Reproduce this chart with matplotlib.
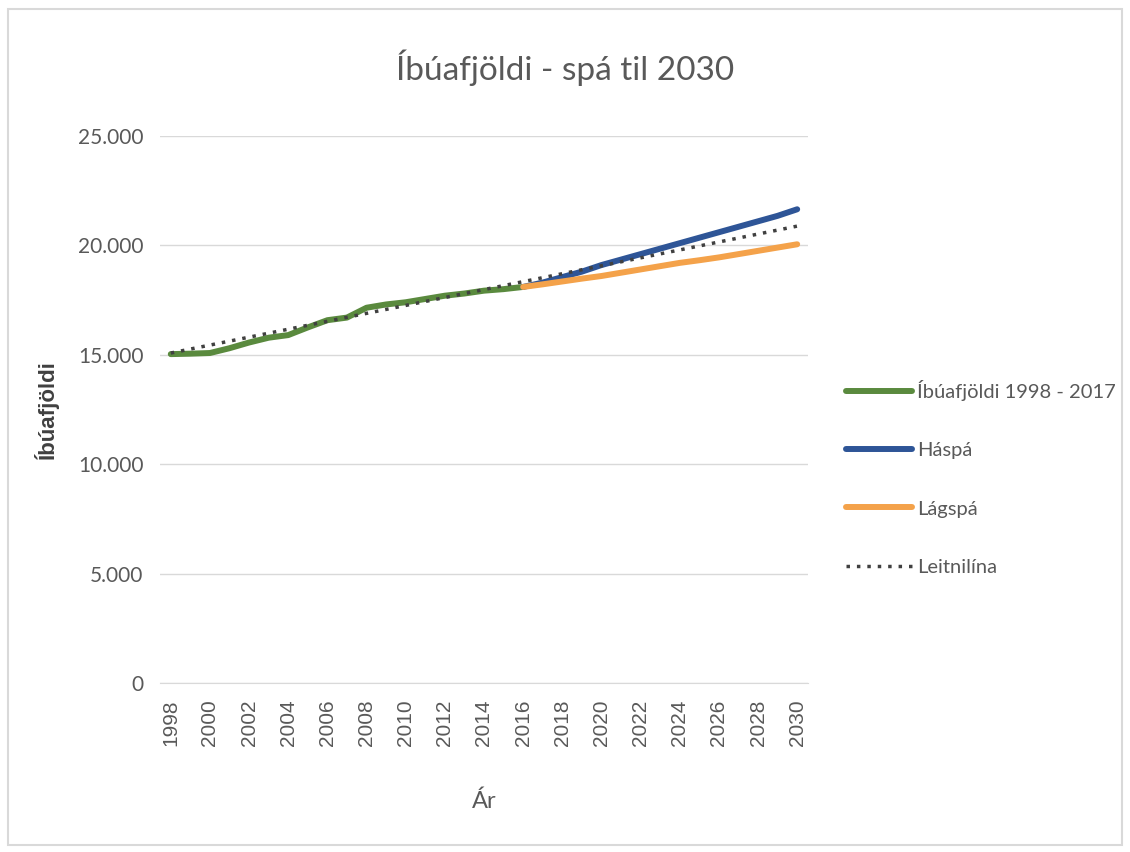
import numpy as np
import matplotlib
matplotlib.use('Agg')
import matplotlib.pyplot as plt
from matplotlib.ticker import FuncFormatter
from matplotlib.patches import Rectangle

# Íbúafjöldi 1998 - 2016 (actual)
years_actual = list(range(1998, 2017))
pop_actual = [15030, 15050, 15080, 15300, 15560, 15780, 15900, 16250, 16580, 16700,
              17150, 17300, 17400, 17550, 17700, 17800, 17930, 18000, 18100]

# forecasts 2016 - 2030
years_fc = list(range(2016, 2031))
high_fc = [18100, 18300, 18550, 18800, 19100, 19350, 19600, 19850, 20100, 20350,
           20600, 20850, 21100, 21350, 21650]
low_fc = [18100, 18220, 18350, 18480, 18600, 18750, 18900, 19050, 19200, 19320,
          19450, 19600, 19750, 19900, 20050]

# trend line (straight line, endpoints)
years_trend = [1998, 2030]
trend_vals = [15080, 20880]

x_labels = [str(y) for y in range(1998, 2031, 2)]

title = 'Íbúafjöldi - spá til 2030'
grey = '#595959'
soft = ['Lato', 'DejaVu Sans']
arial = ['Liberation Sans', 'DejaVu Sans']

fig = plt.figure(figsize=(11.3, 8.52), dpi=100)
fig.patches.append(Rectangle((0.007, 0.008), 0.986, 0.982, transform=fig.transFigure,
                             fill=False, edgecolor='#d9d9d9', linewidth=1.5))
ax = fig.add_axes([0.1416, 0.1984, 0.5734, 0.642])

ax.plot(years_actual, pop_actual, color='#5a8a3e', lw=4.3, solid_capstyle='round',
        label='Íbúafjöldi 1998 - 2017', zorder=3)
ax.plot(years_fc, high_fc, color='#2e5597', lw=4.3, solid_capstyle='round',
        label='Háspá', zorder=3)
ax.plot(years_fc, low_fc, color='#f4a24a', lw=4.3, solid_capstyle='round',
        label='Lágspá', zorder=3)
ax.plot(years_trend, trend_vals, color='#404040', lw=2.5, linestyle=(0, (1, 2)),
        label='Leitnilína', zorder=4)

ax.set_xlim(1997.45, 2030.55)
ax.set_ylim(0, 25000)
ax.set_yticks(range(0, 25001, 5000))
ax.yaxis.set_major_formatter(FuncFormatter(lambda v, p: f'{int(v):,}'.replace(',', '.')))
ax.set_xticks(range(1998, 2031, 2))
ax.set_xticklabels(x_labels, rotation=90, fontsize=15, color=grey, family=arial)
for lab in ax.get_yticklabels():
    lab.set_family(soft)
    lab.set_fontsize(15)
    lab.set_color(grey)

ax.grid(axis='y', color='#d9d9d9', lw=1)
ax.set_axisbelow(True)
for s in ['top', 'right', 'left']:
    ax.spines[s].set_visible(False)
ax.spines['bottom'].set_color('#d9d9d9')
ax.tick_params(axis='x', length=0, pad=12)
ax.tick_params(axis='y', length=0, pad=12)

ax.set_xlabel('Ár', fontsize=17, color=grey, family=soft, labelpad=32)
ax.set_ylabel('Íbúafjöldi', fontsize=16, color='#404040', fontweight='bold',
              family=arial, labelpad=14)

fig.text(0.5, 0.92, title, ha='center', va='center', fontsize=24, color=grey,
         family=soft)

leg = ax.legend(loc='center left', bbox_to_anchor=(1.03, 0.375), frameon=False,
                handlelength=3.3, handletextpad=0.25, labelspacing=2.05,
                prop={'family': soft, 'size': 14.5})
for t in leg.get_texts():
    t.set_color(grey)

fig.savefig('out.png', dpi=100)
